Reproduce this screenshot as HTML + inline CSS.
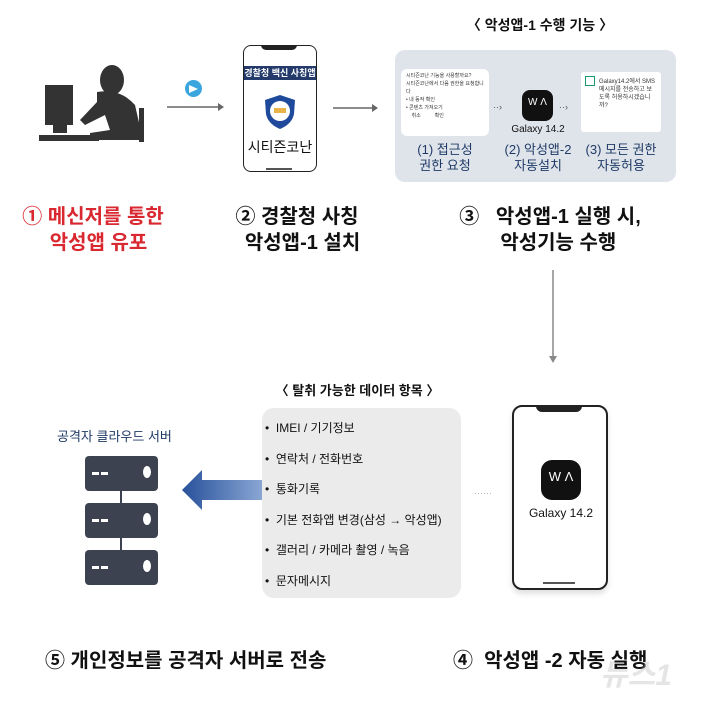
<!DOCTYPE html>
<html><head><meta charset="utf-8"><style>
body{margin:0;width:718px;height:705px;background:#fff;position:relative;overflow:hidden;font-family:"Liberation Sans","Noto Sans CJK KR",sans-serif;}
.a{position:absolute;}
.t{position:absolute;white-space:nowrap;color:#111;}
.lbl{font-size:20px;font-weight:bold;text-align:center;line-height:26px;}
.blue{color:#1f3a66;}
</style></head><body>

<!-- person silhouette -->
<svg class="a" style="left:35px;top:60px" width="120" height="90" viewBox="0 0 120 90">
<rect x="10" y="25" width="28" height="40" fill="#333"/>
<rect x="18" y="65" width="14" height="8" fill="#333"/>
<rect x="4" y="75" width="60" height="6" fill="#333"/>
<ellipse cx="77" cy="20" rx="12" ry="15" fill="#333"/>
<path d="M62 32 Q85 28 100 45 L108 80 L55 80 L55 73 L75 70 L70 55 L50 65 L45 60 L62 42 Z" fill="#333"/>
<rect x="104" y="48" width="5" height="34" fill="#333"/>
</svg>

<!-- telegram -->
<div class="a" style="left:185px;top:80px;width:17px;height:17px;border-radius:50%;background:#3aa6dd"></div>
<div class="a" style="left:189px;top:85px;width:0;height:0;border-left:9px solid #fff;border-top:4px solid transparent;border-bottom:4px solid transparent"></div>
<svg class="a" style="left:160px;top:100px" width="70" height="14"><line x1="7" y1="7" x2="58" y2="7" stroke="#666" stroke-width="1.5"/><path d="M58 3 L64 7 L58 11Z" fill="#666"/></svg>

<!-- phone 1 -->
<div class="a" style="left:243px;top:45px;width:72px;height:125px;border:1.5px solid #222;border-radius:8px;background:#fff"></div>
<div class="a" style="left:261px;top:45px;width:36px;height:5px;background:#222;border-radius:0 0 5px 5px"></div>
<div class="a" style="left:244px;top:66px;width:72px;height:14px;background:#233a6b;color:#fff;font-size:9px;font-weight:bold;text-align:center;line-height:14px">경찰청 백신 사칭앱</div>
<svg class="a" style="left:264px;top:94px" width="32" height="36" viewBox="0 0 32 36"><path d="M16 1 L31 6 L30 20 Q28 30 16 35 Q4 30 2 20 L1 6Z" fill="#1f4a9b"/><circle cx="16" cy="17" r="10" fill="#fff"/><rect x="10" y="14" width="12" height="5" fill="#e8b44a"/></svg>
<div class="t" style="left:243px;top:137px;width:74px;text-align:center;font-size:14px">시티즌코난</div>
<div class="a" style="left:266px;top:168px;width:26px;height:1.5px;background:#555"></div>

<svg class="a" style="left:328px;top:101px" width="55" height="14"><line x1="5" y1="7" x2="44" y2="7" stroke="#666" stroke-width="1.5"/><path d="M44 3 L50 7 L44 11Z" fill="#666"/></svg>

<!-- top right panel -->
<div class="t" style="left:440px;top:15px;width:200px;text-align:center;font-size:14px;font-weight:bold">〈  악성앱-1 수행 기능  〉</div>
<div class="a" style="left:395px;top:50px;width:281px;height:132px;background:#dfe4eb;border-radius:10px"></div>
<div class="a" style="left:401px;top:69px;width:88px;height:67px;background:#fff;border-radius:6px;font-size:5px;color:#333;padding:3px 5px;box-sizing:border-box;line-height:8px">시티즌코난 기능을 사용할까요?<br>시티즌코난에서 다음 권한을 요청합니다<br>• 내 동작 확인<br>• 콘텐츠 가져오기<br>&nbsp;&nbsp;&nbsp;&nbsp;취소&nbsp;&nbsp;&nbsp;&nbsp;&nbsp;&nbsp;&nbsp;&nbsp;&nbsp;&nbsp;확인</div>
<div class="t" style="left:493px;top:102px;font-size:9px;color:#555">··›</div>
<div class="a" style="left:522px;top:90px;width:31px;height:31px;background:#111;border-radius:8px;color:#fff;font-size:10px;text-align:center;line-height:26px">W Λ</div>
<div class="t" style="left:508px;top:124px;width:60px;text-align:center;font-size:10px">Galaxy 14.2</div>
<div class="t" style="left:559px;top:102px;font-size:9px;color:#555">··›</div>
<div class="a" style="left:581px;top:72px;width:80px;height:60px;background:#fff;border-radius:3px;font-size:6px;color:#333;padding:6px 4px 0 18px;box-sizing:border-box;line-height:8px">Galaxy14.2에서 SMS 메시지를 전송하고 보도록 허용하시겠습니까?</div>
<div class="a" style="left:585px;top:76px;width:8px;height:8px;border:1px solid #1a9b6c"></div>
<div class="t" style="left:400px;top:142px;width:90px;text-align:center;font-size:13px;line-height:16px;color:#1f3a66">(1)  접근성<br>권한 요청</div>
<div class="t" style="left:493px;top:142px;width:90px;text-align:center;font-size:13px;line-height:16px;color:#1f3a66">(2) 악성앱-2<br>자동설치</div>
<div class="t" style="left:576px;top:142px;width:90px;text-align:center;font-size:13px;line-height:16px;color:#1f3a66">(3) 모든 권한<br>자동허용</div>

<!-- step labels -->
<div class="t lbl" style="left:8px;top:204px;width:170px;color:#d9282f">① 메신저를 통한<br>&nbsp;&nbsp;악성앱 유포</div>
<div class="t lbl" style="left:212px;top:204px;width:170px">② 경찰청 사칭<br>&nbsp;&nbsp;악성앱-1 설치</div>
<div class="t lbl" style="left:440px;top:204px;width:220px">③&nbsp;&nbsp;&nbsp;악성앱-1 실행 시,<br>&nbsp;&nbsp;&nbsp;악성기능 수행</div>

<!-- down arrow -->
<svg class="a" style="left:546px;top:268px" width="14" height="100"><line x1="7" y1="2" x2="7" y2="88" stroke="#888" stroke-width="1.5"/><path d="M3 88 L7 95 L11 88Z" fill="#888"/></svg>

<!-- bottom data box -->
<div class="t" style="left:255px;top:380px;width:205px;text-align:center;font-size:13px;font-weight:bold">〈  탈취 가능한 데이터 항목  〉</div>
<div class="a" style="left:262px;top:408px;width:199px;height:190px;background:#ebebeb;border-radius:12px"></div>
<div class="t" style="left:265px;top:413px;font-size:12px;line-height:30.5px">• &nbsp;IMEI / 기기정보<br>• &nbsp;연락처 / 전화번호<br>• &nbsp;통화기록<br>• &nbsp;기본 전화앱 변경(삼성 → 악성앱)<br>• &nbsp;갤러리 / 카메라 촬영 / 녹음<br>• &nbsp;문자메시지</div>

<!-- server -->
<div class="t blue" style="left:57px;top:426px;font-size:13px">공격자 클라우드 서버</div>
<div class="a" style="left:120px;top:480px;width:2px;height:90px;background:#3d4250"></div>
<div class="a" style="left:85px;top:456px;width:73px;height:35px;background:#3d4250;border-radius:4px"></div>
<div class="a" style="left:85px;top:503px;width:73px;height:35px;background:#3d4250;border-radius:4px"></div>
<div class="a" style="left:85px;top:550px;width:73px;height:35px;background:#3d4250;border-radius:4px"></div>
<div class="a" style="left:92px;top:472px;width:16px;height:3px;border-left:7px solid #fff;border-right:7px solid #fff;box-sizing:border-box"></div>
<div class="a" style="left:92px;top:519px;width:16px;height:3px;border-left:7px solid #fff;border-right:7px solid #fff;box-sizing:border-box"></div>
<div class="a" style="left:92px;top:566px;width:16px;height:3px;border-left:7px solid #fff;border-right:7px solid #fff;box-sizing:border-box"></div>
<div class="a" style="left:143px;top:466px;width:8px;height:12px;background:#fff;border-radius:50%"></div>
<div class="a" style="left:143px;top:513px;width:8px;height:12px;background:#fff;border-radius:50%"></div>
<div class="a" style="left:143px;top:560px;width:8px;height:12px;background:#fff;border-radius:50%"></div>

<!-- blue arrow -->
<svg class="a" style="left:180px;top:465px" width="84" height="50"><defs><linearGradient id="g" x1="0" x2="1"><stop offset="0" stop-color="#27519a"/><stop offset="1" stop-color="#8aa6d4"/></linearGradient></defs><path d="M2 25 L22 5 L22 15 L82 15 L82 35 L22 35 L22 45Z" fill="url(#g)"/></svg>

<div class="t" style="left:474px;top:488px;font-size:9px;color:#aaa">······</div>

<!-- phone 2 -->
<div class="a" style="left:512px;top:405px;width:92px;height:181px;border:2px solid #222;border-radius:10px;background:#fff;box-shadow:0 4px 6px rgba(0,0,0,.12)"></div>
<div class="a" style="left:536px;top:405px;width:46px;height:7px;background:#222;border-radius:0 0 6px 6px"></div>
<div class="a" style="left:543px;top:582px;width:32px;height:2px;background:#555"></div>
<div class="a" style="left:541px;top:460px;width:40px;height:40px;background:#111;border-radius:11px;color:#fff;font-size:13px;text-align:center;line-height:34px">W Λ</div>
<div class="t" style="left:526px;top:506px;width:70px;text-align:center;font-size:12px">Galaxy 14.2</div>

<!-- bottom labels -->
<div class="t" style="left:45px;top:644px;font-size:20px;font-weight:bold">⑤ 개인정보를 공격자 서버로 전송</div>
<div class="t" style="left:453px;top:644px;font-size:20px;font-weight:bold">④&nbsp;&nbsp;악성앱 -2 자동 실행</div>
<div class="t" style="left:600px;top:650px;font-size:30px;font-weight:bold;font-style:italic;color:rgba(180,180,180,.35)">뉴스1</div>
</body></html>
